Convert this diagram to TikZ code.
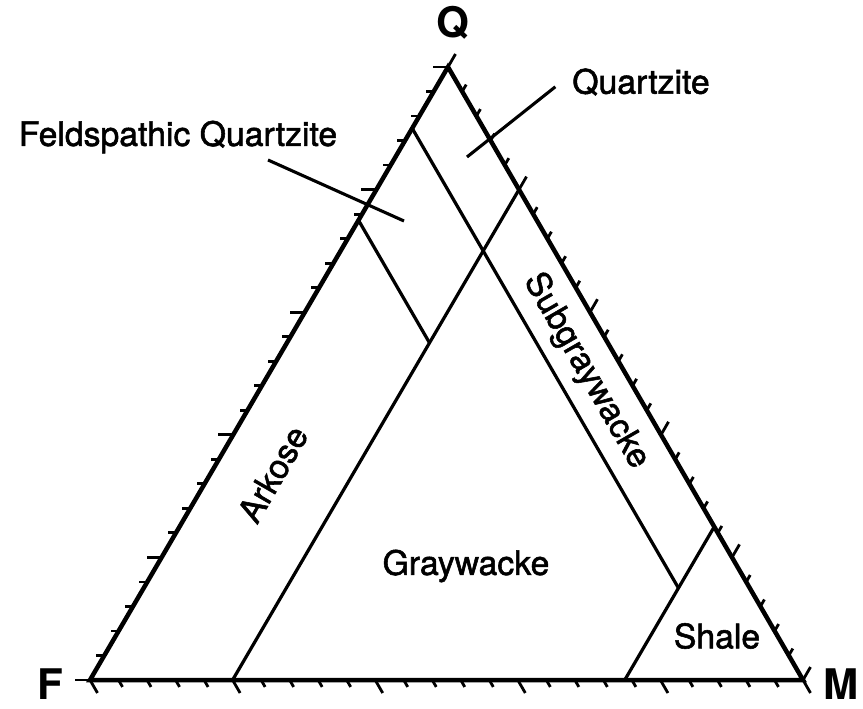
\documentclass[tikz,border=0pt]{standalone}
\usepackage{fontspec}
\setmainfont{TeX Gyre Heros}
\newfontfamily\labfont{TeX Gyre Heros}[FakeBold=1.6]
\usetikzlibrary{calc}

\begin{document}
\begin{tikzpicture}[every node/.style={font=\labfont\fontsize{24}{28}\selectfont},
	corner/.style={font=\fontsize{30}{34}\selectfont\bfseries, inner sep=1pt},
	edge/.style={line width=3.2pt, line join=miter},
	bound/.style={line width=2.3pt},
	tickmark/.style={line width=2pt},
	leader/.style={line width=2.2pt}]
	\useasboundingbox (0,0) rectangle (21.575,17.7);
	\coordinate (F) at (2.25,0.7);
	\coordinate (M) at (20.075,0.7);
	\coordinate (Q) at (11.2,16.025);
	\draw[edge] (F) -- (M) -- (Q) -- cycle;
	\foreach \i in {0,...,25} {
		\pgfmathsetmacro\t{\i/25}
		\pgfmathsetmacro\len{ifthenelse(mod(\i,5)==0,0.375,0.2)}
		\draw[tickmark] ($(F)!\t!(M)$) -- ++(-60:\len);
		\draw[tickmark] ($(F)!\t!(Q)$) -- ++(180:\len);
		\draw[tickmark] ($(M)!\t!(Q)$) -- ++(60:\len);
	}
	\draw[bound] (barycentric cs:F=0.8,M=0.2) -- (barycentric cs:M=0.2,Q=0.8);
	\draw[bound] (barycentric cs:F=0.1,Q=0.9) -- (barycentric cs:F=0.1,M=0.75,Q=0.15);
	\draw[bound] (barycentric cs:F=0.25,M=0.75) -- (barycentric cs:M=0.75,Q=0.25);
	\draw[bound] (barycentric cs:F=0.25,Q=0.75) -- (barycentric cs:F=0.25,M=0.2,Q=0.55);
	\node[corner] (labQ) at (11.325,17.125) {Q};
	\node[corner] (labF) at (1.25,0.6) {F};
	\node[corner] (labM) at (21.025,0.6) {M};
	\node (qtz) at (16.025,15.65) {Quartzite};
	\node (fq) at (4.45,14.275) {Feldspathic Quartzite};
	\node[rotate=60] (ark) at (6.82,5.85) {Arkose};
	\node[rotate=-60] (subgw) at (14.65,8.425) {Subgraywacke};
	\node (gw) at (11.65,3.55) {Graywacke};
	\node (sh) at (17.925,1.8) {Shale};
	\coordinate (qtzin) at (11.675,13.775);
	\coordinate (fqout) at (6.7,13.7);
	\coordinate (fqin) at (10.1,12.175);
	\draw[leader] ($(qtz.west)+(-0.3,-0.12)$) -- (qtzin);
	\draw[leader] (fqout) -- (fqin);
\end{tikzpicture}
\end{document}
